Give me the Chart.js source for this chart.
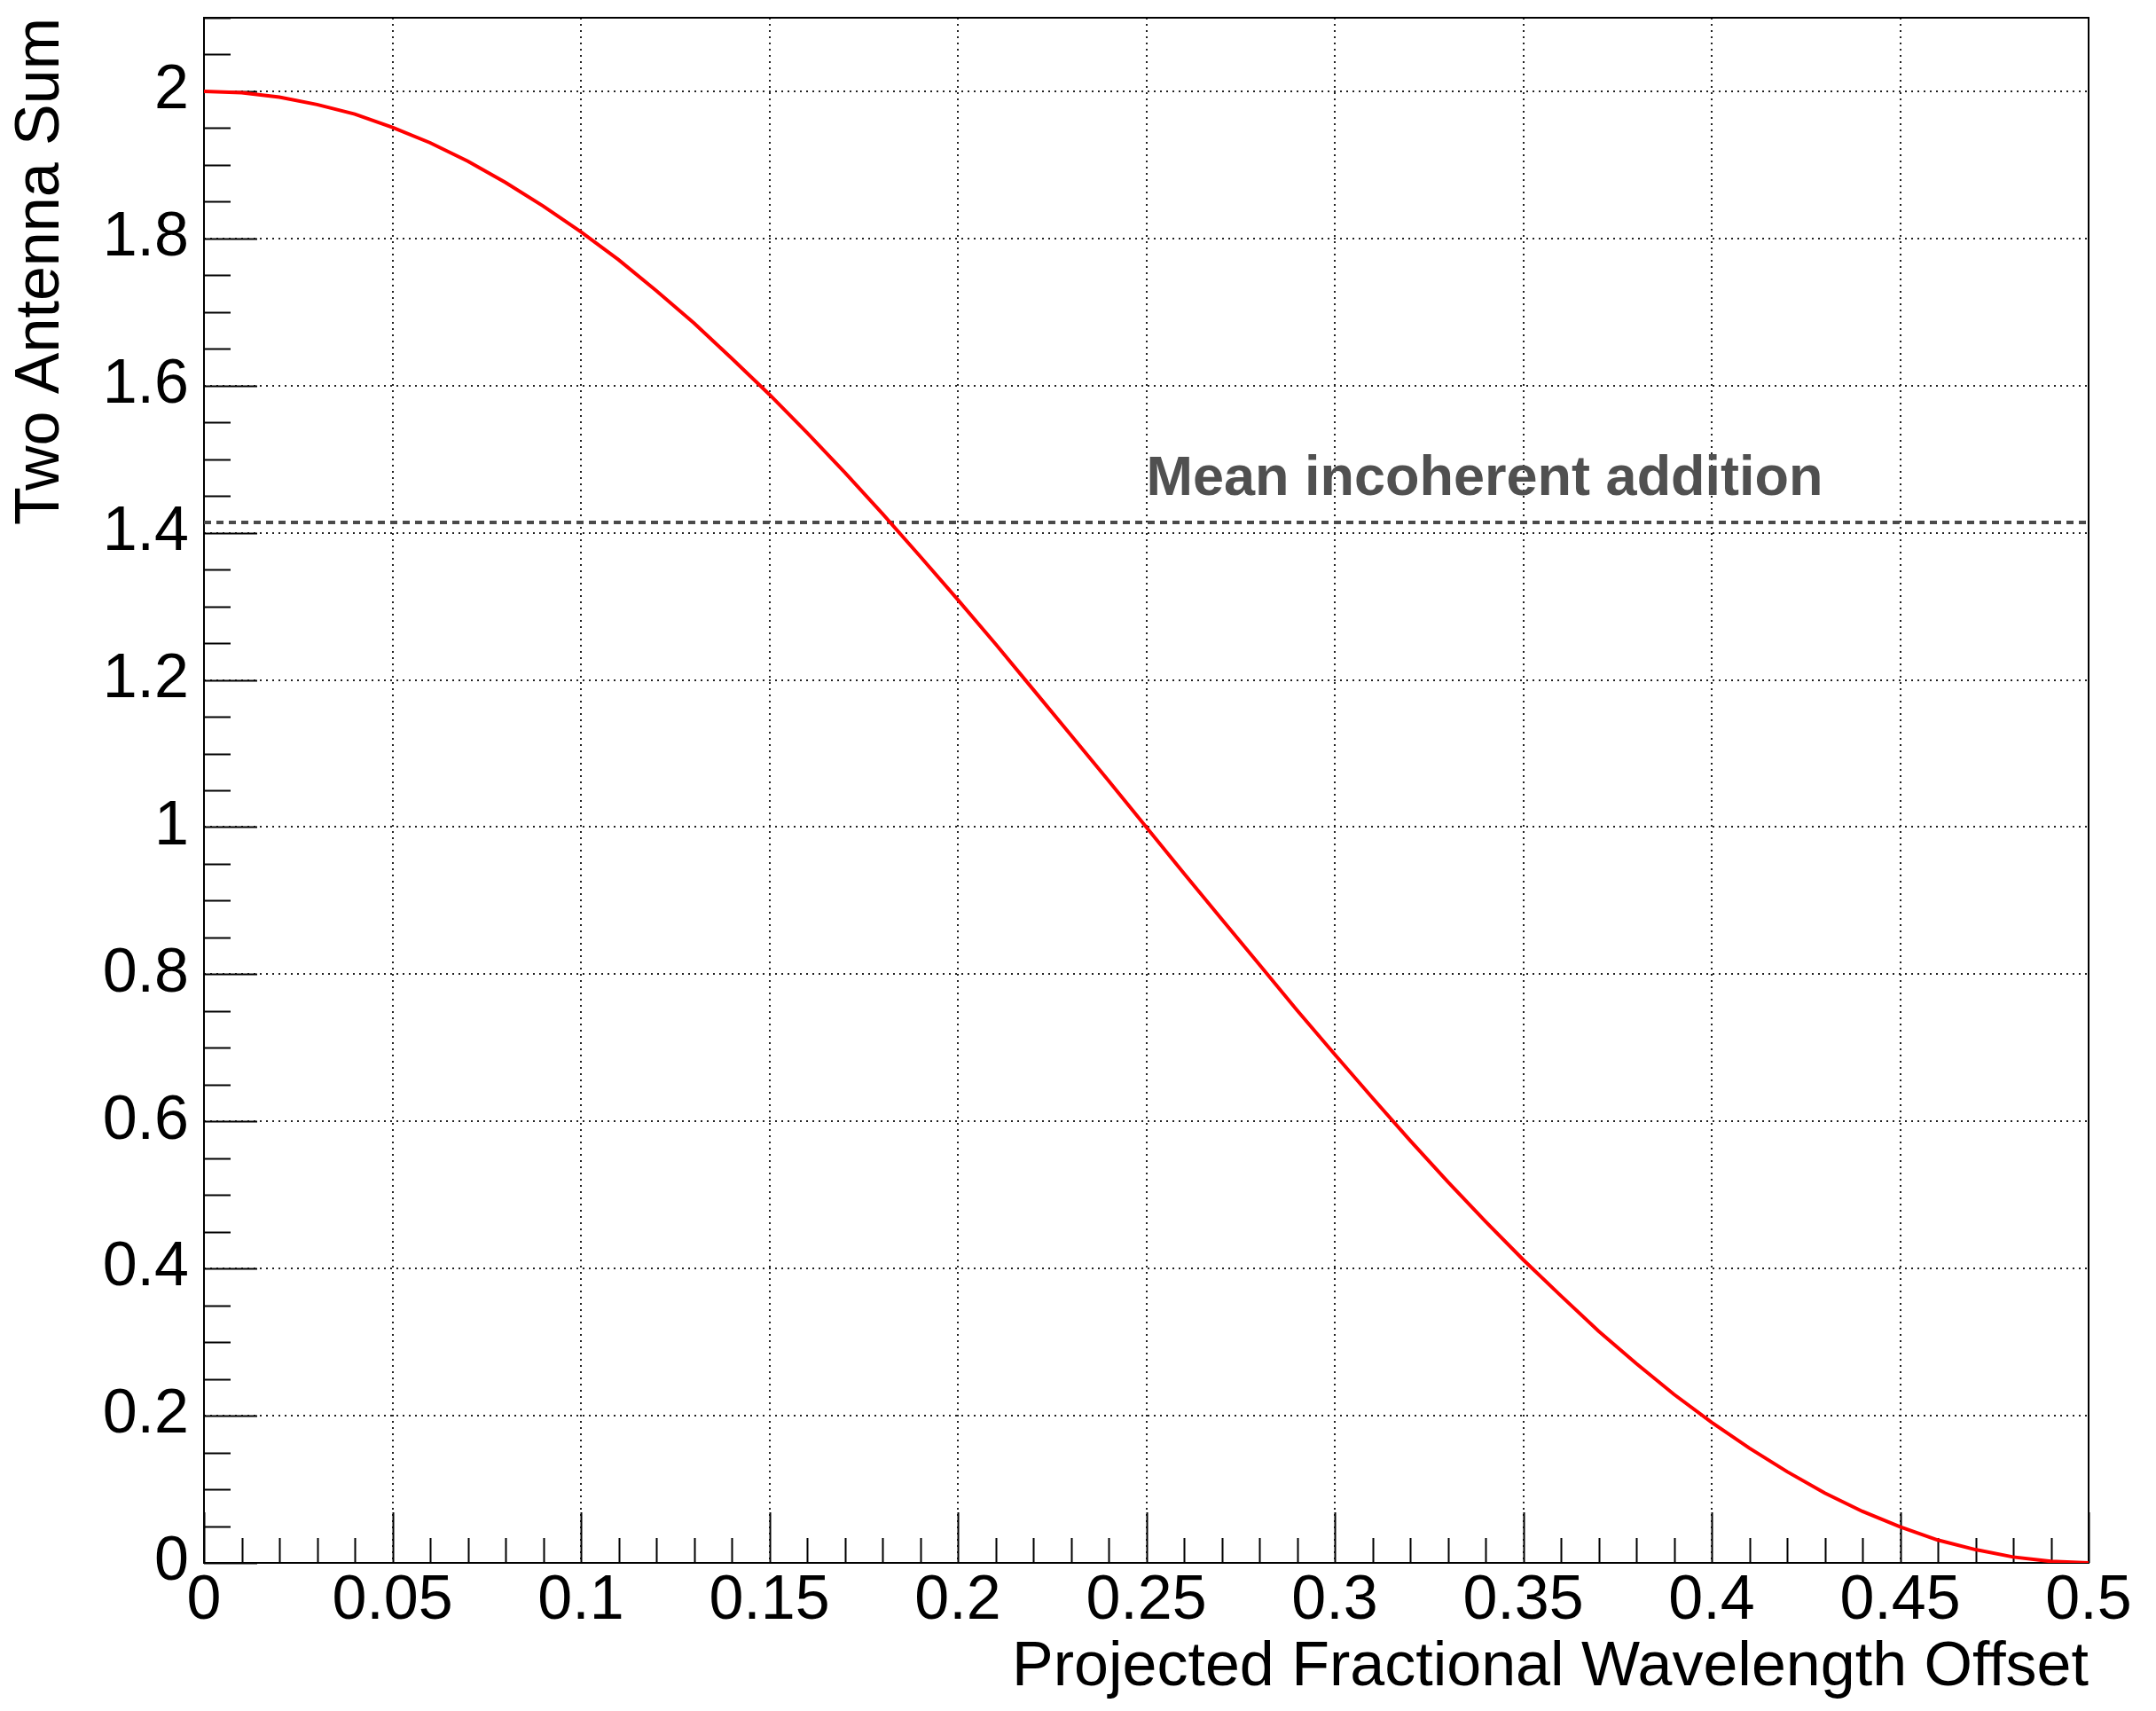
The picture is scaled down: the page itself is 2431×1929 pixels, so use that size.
<!DOCTYPE html>
<html>
<head>
<meta charset="utf-8">
<script src="https://cdn.jsdelivr.net/npm/chart.js@4.4.1/dist/chart.umd.min.js"></script>
<style>
  html, body { margin: 0; padding: 0; background: #fff; }
  canvas { display: block; }
</style>
</head>
<body>
<canvas id="sumChart" width="2431" height="1929"></canvas>
<script>
// values
const offsets = [0, 0.01, 0.02, 0.03, 0.04, 0.05, 0.06, 0.07, 0.08, 0.09,
                 0.10, 0.11, 0.12, 0.13, 0.14, 0.15, 0.16, 0.17, 0.18, 0.19,
                 0.20, 0.21, 0.22, 0.23, 0.24, 0.25, 0.26, 0.27, 0.28, 0.29,
                 0.30, 0.31, 0.32, 0.33, 0.34, 0.35, 0.36, 0.37, 0.38, 0.39,
                 0.40, 0.41, 0.42, 0.43, 0.44, 0.45, 0.46, 0.47, 0.48, 0.49, 0.50];
const sums = [2.000, 1.998, 1.992, 1.982, 1.969, 1.951, 1.930, 1.905, 1.876, 1.844,
              1.809, 1.771, 1.729, 1.685, 1.637, 1.588, 1.536, 1.482, 1.426, 1.368,
              1.309, 1.249, 1.187, 1.125, 1.063, 1.000, 0.937, 0.875, 0.813, 0.751,
              0.691, 0.632, 0.574, 0.518, 0.464, 0.412, 0.363, 0.315, 0.271, 0.229,
              0.191, 0.156, 0.124, 0.095, 0.070, 0.049, 0.031, 0.018, 0.008, 0.002, 0.000];
const meanIncoherent = 1.414;
const meanLabel = "Mean incoherent addition";
const xTickValues = [0, 0.05, 0.1, 0.15, 0.2, 0.25, 0.3, 0.35, 0.4, 0.45, 0.5];
const yTickValues = [0, 0.2, 0.4, 0.6, 0.8, 1, 1.2, 1.4, 1.6, 1.8, 2];

const FONT = "'Liberation Sans', Arial, Helvetica, sans-serif";
Chart.defaults.font.family = FONT;
Chart.defaults.color = "#000";

const fmt = v => String(Number(v.toFixed(2)));

// ROOT style frame + inside tick marks
const framePlugin = {
    id: "rootFrame",
    beforeDatasetsDraw(chart) {
        const { ctx, chartArea: a, scales: { x, y } } = chart;
        ctx.save();
        ctx.strokeStyle = "#000";
        ctx.lineWidth = 2;
        ctx.beginPath();
        for (let i = 0; i <= 50; i++) {
            const px = Math.round(x.getPixelForValue(i / 100)) + 0.5;
            const len = i % 5 === 0 ? 57 : 28;
            ctx.moveTo(px, a.bottom);
            ctx.lineTo(px, a.bottom - len);
        }
        for (let i = 0; i <= 42; i++) {
            const py = Math.round(y.getPixelForValue(i * 0.05)) + 0.5;
            const len = i % 4 === 0 ? 60 : 30;
            ctx.moveTo(a.left, py);
            ctx.lineTo(a.left + len, py);
        }
        ctx.stroke();
        ctx.strokeRect(a.left, a.top, a.width, a.height);
        ctx.restore();
    },
    afterDatasetsDraw(chart) {
        const { ctx, scales: { x, y } } = chart;
        ctx.save();
        ctx.font = "bold 63px " + FONT;
        ctx.fillStyle = "#505050";
        ctx.textAlign = "left";
        ctx.textBaseline = "alphabetic";
        ctx.fillText(meanLabel, x.getPixelForValue(0.25), y.getPixelForValue(1.452));
        ctx.restore();
    }
};

const ctx = document.getElementById("sumChart").getContext("2d");
const sumChart = new Chart(ctx, {
    type: "line",
    data: {
        datasets: [
            {
                label: "Two Antenna Sum",
                data: offsets.map((o, i) => ({ x: o, y: sums[i] })),
                borderColor: "#ff0000",
                borderWidth: 4,
                pointRadius: 0,
                tension: 0,
                fill: false,
                order: 1,
            },
            {
                label: meanLabel,
                data: [{ x: 0, y: meanIncoherent }, { x: 0.5, y: meanIncoherent }],
                borderColor: "#4a4a4a",
                borderWidth: 4,
                borderDash: [8, 6],
                pointRadius: 0,
                fill: false,
                order: 2,
            },
        ],
    },
    options: {
        responsive: false,
        animation: false,
        layout: { padding: { left: 0, right: 76, top: 20, bottom: 0 } },
        plugins: {
            legend: { display: false },
            tooltip: { enabled: false },
        },
        scales: {
            x: {
                type: "linear",
                min: 0,
                max: 0.5,
                afterBuildTicks: s => { s.ticks = xTickValues.map(v => ({ value: v })); },
                afterFit: s => { s.height = 167; s.paddingLeft = 0; s.paddingRight = 0; },
                ticks: {
                    font: { size: 70 },
                    color: "#000",
                    padding: 2,
                    maxRotation: 0,
                    autoSkip: false,
                    callback: v => fmt(v),
                },
                grid: { color: "#222", lineWidth: 2, drawTicks: false },
                border: { display: false, dash: [2, 5] },
                title: {
                    display: true,
                    text: "Projected Fractional Wavelength Offset",
                    align: "end",
                    color: "#000",
                    font: { size: 70 },
                    padding: { top: 0, bottom: 6 },
                },
            },
            y: {
                type: "linear",
                min: 0,
                max: 2.1,
                afterBuildTicks: s => { s.ticks = yTickValues.map(v => ({ value: v })); },
                afterFit: s => { s.width = 230; s.paddingTop = 0; s.paddingBottom = 0; },
                ticks: {
                    font: { size: 70 },
                    color: "#000",
                    padding: 17,
                    autoSkip: false,
                    callback: v => fmt(v),
                },
                grid: { color: "#222", lineWidth: 2, drawTicks: false },
                border: { display: false, dash: [2, 5] },
                title: {
                    display: true,
                    text: "Two Antenna Sum",
                    align: "end",
                    color: "#000",
                    font: { size: 70 },
                    padding: { top: 5, bottom: 0 },
                },
            },
        },
    },
    plugins: [framePlugin],
});
</script>
</body>
</html>
